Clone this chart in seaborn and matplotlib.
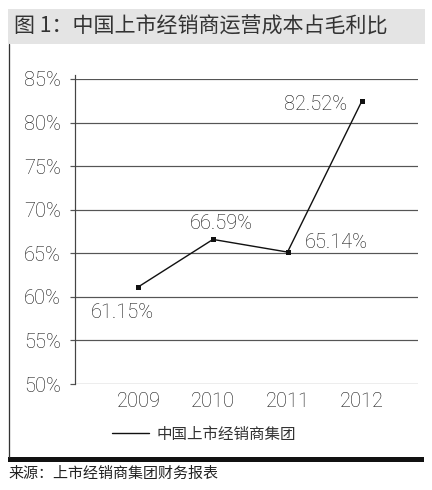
import matplotlib
matplotlib.use("Agg")
import matplotlib.pyplot as plt
from matplotlib.lines import Line2D
from matplotlib.patches import Rectangle
import seaborn as sns
import pandas as pd

# ---- data ----
years = ["2009", "2010", "2011", "2012"]
ratios = [61.15, 66.59, 65.14, 82.52]
value_labels = ["61.15%", "66.59%", "65.14%", "82.52%"]
yticks = [50, 55, 60, 65, 70, 75, 80, 85]
title = "图 1：中国上市经销商运营成本占毛利比"
series_name = "中国上市经销商集团"
source = "来源：上市经销商集团财务报表"

sns.set_theme(style="white")
plt.rcParams["font.family"] = ["Noto Sans CJK SC", "DejaVu Sans"]
NUM_FONT = ["Roboto", "Noto Sans CJK SC", "DejaVu Sans"]
NUM_COLOR = "#141414"

W, H = 432, 490
DPI = 72
fig = plt.figure(figsize=(W / DPI, H / DPI), dpi=DPI)
fig.patch.set_facecolor("white")

def fx(x):
    return x / W

def fy(y):
    return 1 - y / H

ax = fig.add_axes([fx(75), fy(384), fx(418) - fx(75), fy(79) - fy(384)])

df = pd.DataFrame({"year": years, "ratio": ratios})
sns.lineplot(data=df, x="year", y="ratio", ax=ax, color="#111111",
             linewidth=1.4, marker="s", markersize=5, markeredgewidth=0,
             sort=False)

ax.set_xlim(-0.85, 3.75)
ax.set_ylim(50, 85)
ax.set_yticks(yticks)
ax.set_yticklabels([f"{t}%" for t in yticks])
ax.set_xlabel("")
ax.set_ylabel("")
ax.yaxis.grid(True, color="#555555", linewidth=1.2)
ax.xaxis.grid(False)
ax.set_axisbelow(True)
for s in ["top", "right", "bottom"]:
    ax.spines[s].set_visible(False)
ax.spines["left"].set_color("#444444")
ax.spines["left"].set_linewidth(1.2)
ax.spines["left"].set_bounds(50, 85.5)
ax.spines["left"].set_clip_on(False)
ax.tick_params(axis="y", length=5, width=1.2, color="#555555", pad=9,
               labelsize=20, labelcolor=NUM_COLOR, left=True)
ax.tick_params(axis="x", length=0, pad=8, labelsize=20, labelcolor=NUM_COLOR)
for lab in ax.get_xticklabels() + ax.get_yticklabels():
    lab.set_family(NUM_FONT)
    lab.set_fontweight("light")

offsets = [(-16, -26), (8, 16), (49, 10), (-47, -4)]
for i, (v, lab, off) in enumerate(zip(ratios, value_labels, offsets)):
    ax.annotate(lab, xy=(i, v), xytext=off, textcoords="offset pixels",
                ha="center", va="center", fontsize=20, color=NUM_COLOR,
                family=NUM_FONT, fontweight="light", annotation_clip=False)

# legend
handle = Line2D([], [], color="#111111", linewidth=1.4)
fig.legend(handles=[handle], labels=[series_name], loc="center left",
           bbox_to_anchor=(fx(98), fy(434)), frameon=False,
           handlelength=2.4, handletextpad=0.5, fontsize=15.5,
           labelcolor="#333333")

# title band
fig.add_artist(Rectangle((fx(8), fy(44)), fx(425) - fx(8), fy(9) - fy(44),
                         transform=fig.transFigure, facecolor="#e4e4e4",
                         edgecolor="none", zorder=0))
fig.text(fx(14), fy(27), title, fontsize=21, color="#333333",
         ha="left", va="center", fontweight="light")

# frame lines
fig.add_artist(Line2D([fx(9), fx(9)], [fy(44), fy(457)],
                      transform=fig.transFigure, color="#333333", linewidth=1.3))
fig.add_artist(Rectangle((fx(8), fy(462)), fx(424) - fx(8), fy(457) - fy(462),
                         transform=fig.transFigure, facecolor="#111111",
                         edgecolor="none"))

fig.text(fx(8), fy(474), source, fontsize=15, color="#222222",
         ha="left", va="center")

fig.savefig("out.png", dpi=DPI, facecolor="white")
